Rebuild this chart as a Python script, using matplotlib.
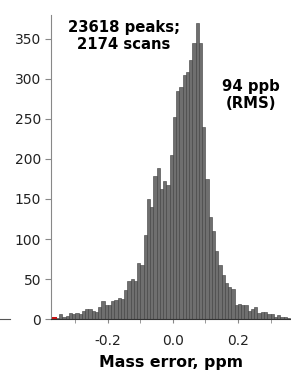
#!/usr/bin/env python3

import matplotlib.pyplot as plt
from matplotlib.lines import Line2D
import numpy as np

# histogram of mass error (ppm), bins 0.01 ppm wide, left edges
bin_start = -0.37
bin_width = 0.01
counts = [0, 1, 6, 3, 4, 8, 6, 7, 6, 10,
          13, 12, 10, 9, 15, 22, 18, 18, 22, 24,
          26, 25, 36, 48, 50, 48, 70, 68, 105, 150,
          140, 179, 189, 163, 172, 168, 205, 252, 285, 290,
          305, 309, 324, 345, 370, 345, 240, 175, 128, 110,
          85, 68, 55, 45, 40, 37, 17, 19, 17, 17,
          10, 13, 15, 7, 9, 9, 6, 6, 3, 5,
          3, 2, 1]
# outliers, shown in red
red_edges = [-0.375]
red_counts = [2]

x_ticks = [-0.2, 0.0, 0.2]
x_minor = [-0.3, -0.1, 0.1, 0.3]
y_ticks = [0, 50, 100, 150, 200, 250, 300, 350]


def main():
    fig = plt.figure(figsize=(2.91, 3.74), dpi=100)
    ax = fig.add_axes([0.175, 0.147, 0.825, 0.813])

    edges = bin_start + bin_width * np.arange(len(counts))
    ax.bar(edges, counts, width=bin_width, align='edge',
           color='#6f6f6f', edgecolor='#3c3c3c', linewidth=0.4)
    ax.bar(red_edges, red_counts, width=0.018, align='edge',
           color='#cc1111', edgecolor='#cc1111', linewidth=0)

    ax.set_xlim(-0.375, 0.363)
    ax.set_ylim(0, 380)

    for s in ['top', 'right']:
        ax.spines[s].set_visible(False)
    ax.spines['left'].set_color('#888888')
    ax.spines['bottom'].set_color('#333333')

    ax.set_xticks(x_ticks)
    ax.set_xticklabels(['-0.2', '0.0', '0.2'])
    ax.set_xticks(x_minor, minor=True)
    ax.set_yticks(y_ticks)
    ax.tick_params(axis='both', which='both', direction='out', color='#888888',
                   labelsize=10, labelcolor='#222222')
    ax.tick_params(axis='x', which='both', length=3, pad=8)
    ax.tick_params(axis='y', length=4, pad=3)
    ax.set_xlabel('Mass error, ppm', fontsize=11.3, fontweight='bold', labelpad=5)

    ax.text(0.304, 0.931, '23618 peaks;\n2174 scans', transform=ax.transAxes,
            ha='center', va='center', fontsize=10.7, fontweight='bold',
            linespacing=1.15)
    ax.text(0.833, 0.737, '94 ppb\n(RMS)', transform=ax.transAxes,
            ha='center', va='center', fontsize=10.7, fontweight='bold',
            linespacing=1.2)

    # stray axis stub from neighbouring panel
    fig.add_artist(Line2D([0.0, 0.035], [0.147, 0.147], color='#555555',
                          linewidth=0.8, transform=fig.transFigure))

    fig.savefig('out.png', dpi=100)


if __name__ == "__main__":
    main()
